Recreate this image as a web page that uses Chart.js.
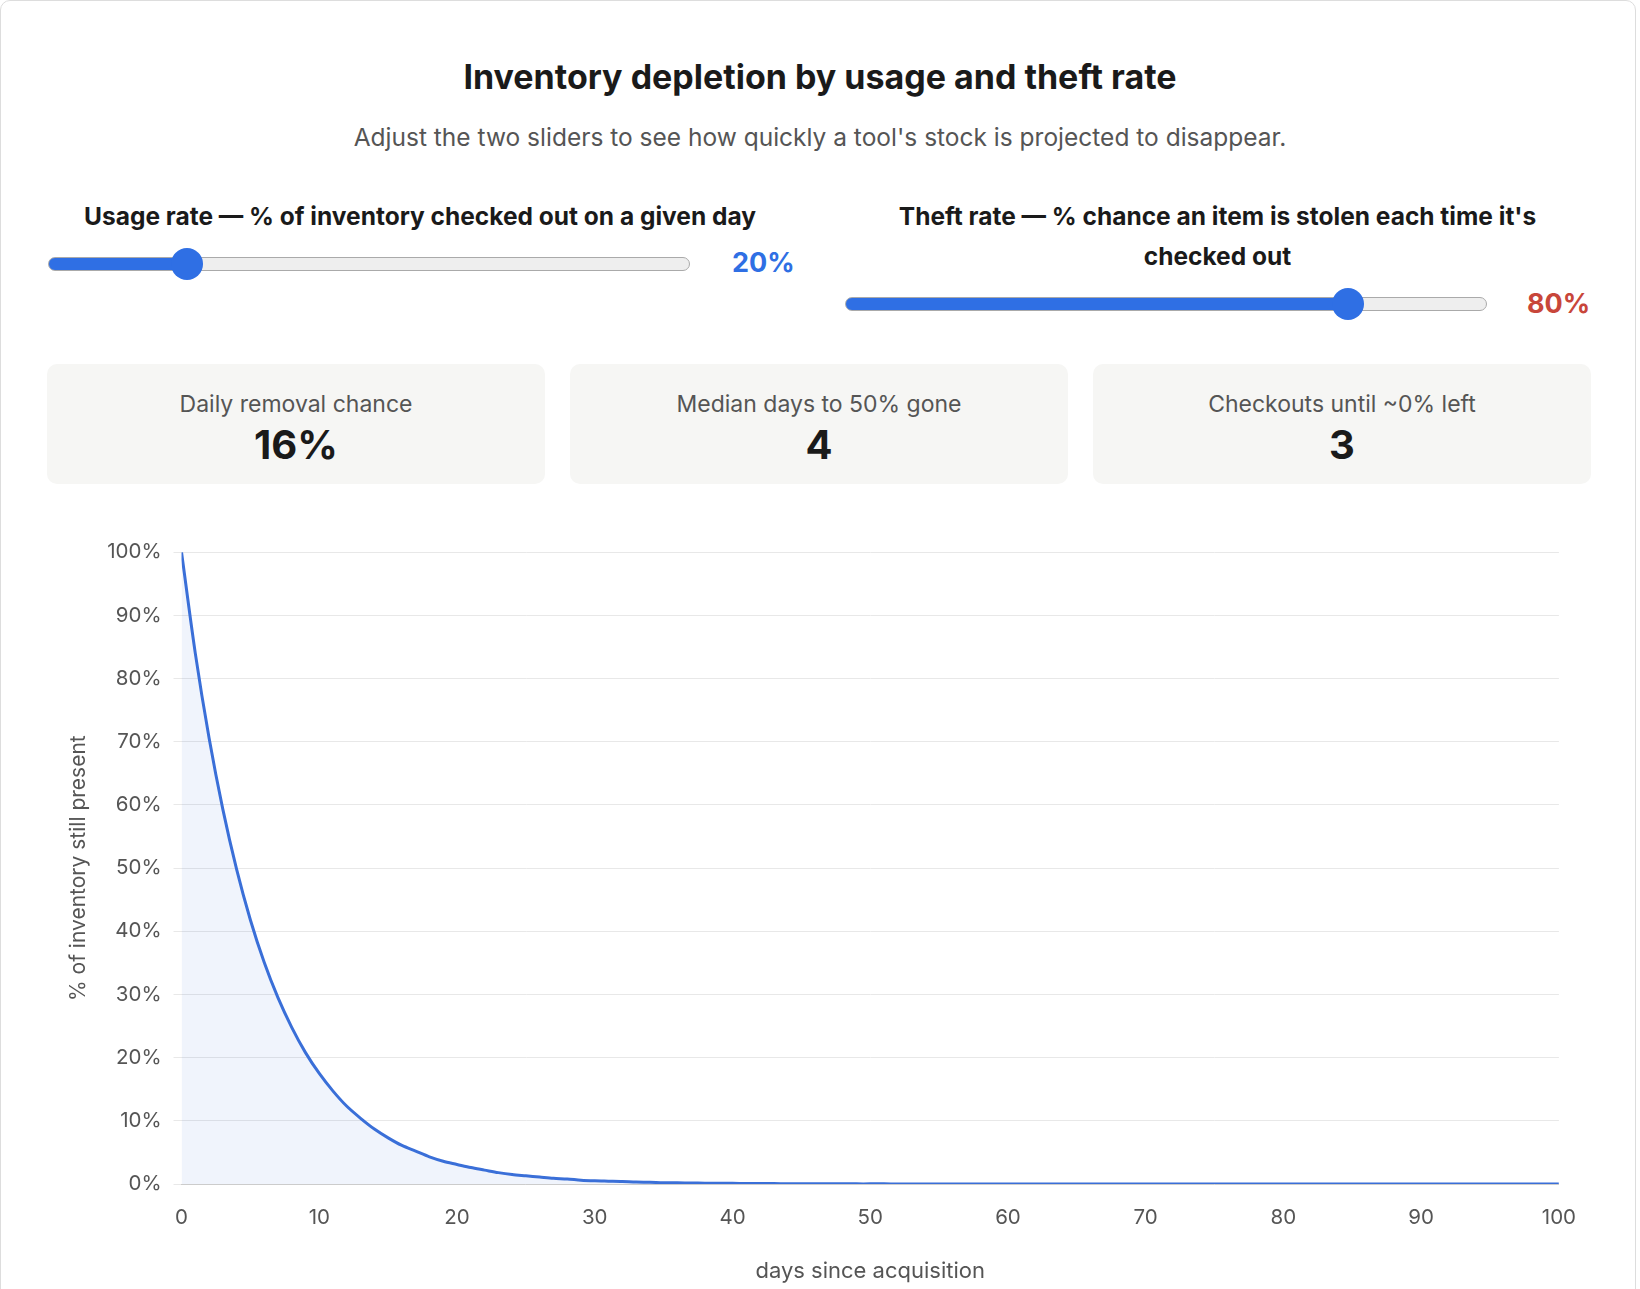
<!DOCTYPE html>
<html><head><meta charset="utf-8">
<script src="https://cdn.jsdelivr.net/npm/chart.js@4"></script>
<style>
body{margin:0;background:#fff;font-family:"Helvetica Neue",Inter,"Liberation Sans",Arial,sans-serif;color:#1a1a1a}
.card{position:absolute;left:0;top:0;width:1636px;height:1300px;border:1px solid #ddd;border-radius:10px;box-sizing:border-box}
h1{position:absolute;top:56px;left:0;width:1640px;text-align:center;font-size:34px;font-weight:700;margin:0}
.sub{position:absolute;top:122px;left:0;width:1640px;text-align:center;font-size:24.5px;color:#555}
.lab{position:absolute;font-size:24.5px;font-weight:700;text-align:center;line-height:40px}
input[type=range]{position:absolute;margin:0;height:30px;-webkit-appearance:none;appearance:none;background:transparent}
input[type=range]::-webkit-slider-runnable-track{height:14px;border-radius:7px;border:1px solid #aaa;box-sizing:border-box;background:linear-gradient(to right,#2f6fe4 var(--p),#eee var(--p))}
input[type=range]::-webkit-slider-thumb{-webkit-appearance:none;width:32px;height:32px;border-radius:50%;background:#2f6fe4;margin-top:-10px}
.val{position:absolute;font-size:27px;font-weight:700}
.box{position:absolute;top:364px;height:120px;width:498px;background:#f6f6f4;border-radius:10px;text-align:center}
.box .t{margin-top:26px;font-size:23px;color:#555}
.box .n{font-size:40px;font-weight:700;margin-top:2px}
#wrap{position:absolute;left:50px;top:528px;width:1540px;height:761px}
</style></head><body>
<div class="card"></div>
<h1>Inventory depletion by usage and theft rate</h1>
<div class="sub">Adjust the two sliders to see how quickly a tool's stock is projected to disappear.</div>
<div class="lab" style="left:40px;top:196px;width:760px">Usage rate — % of inventory checked out on a given day</div>
<input type="range" min="0" max="100" value="20" style="left:48px;top:249px;width:642px;--p:20%">
<div class="val" style="left:732px;top:246px;color:#2f6fe4">20%</div>
<div class="lab" style="left:870px;top:196px;width:695px">Theft rate — % chance an item is stolen each time it's checked out</div>
<input type="range" min="0" max="100" value="80" style="left:845px;top:289px;width:642px;--p:80%">
<div class="val" style="left:1527px;top:287px;color:#c8463a">80%</div>
<div class="box" style="left:47px"><div class="t">Daily removal chance</div><div class="n">16%</div></div>
<div class="box" style="left:570px"><div class="t">Median days to 50% gone</div><div class="n">4</div></div>
<div class="box" style="left:1093px"><div class="t">Checkouts until ~0% left</div><div class="n">3</div></div>
<div id="wrap"><canvas id="c"></canvas></div>
<script>
const days = Array.from({length:101},(_,i)=>i);
const remaining = [100,84,70.6,59.3,49.8,41.8,35.1,29.5,24.8,20.8,17.5,14.7,12.3,10.4,8.7,7.3,6.1,5.2,4.3,3.6,3.1,2.6,2.2,1.8,1.5,1.3,1.1,0.9,0.8,0.6,0.5,0.45,0.4,0.3,0.27,0.2,0.2,0.15,0.13,0.1,0.1,
0.08,0.07,0.06,0.05,0.04,0.04,0.03,0.03,0.02,0.02,0.02,0.01,0.01,0.01,0.01,0.01,0,0,0,0,
0,0,0,0,0,0,0,0,0,0,0,0,0,0,0,0,0,0,0,0,0,0,0,0,0,0,0,0,0,0,0,0,0,0,0,0,0,0,0,0,0];
Chart.defaults.font.family='"Helvetica Neue",Inter,"Liberation Sans",Arial,sans-serif';
Chart.defaults.font.size=20.5;Chart.defaults.color='#555';
new Chart(document.getElementById('c'),{type:'line',
data:{labels:days,datasets:[{data:remaining,borderColor:'#3a6fd8',backgroundColor:'rgba(58,111,216,0.08)',fill:true,pointRadius:0,borderWidth:3,tension:0.3}]},
options:{responsive:true,maintainAspectRatio:false,animation:false,plugins:{legend:{display:false},tooltip:{enabled:false}},
layout:{padding:{top:12,right:18,left:12}},
scales:{x:{type:'linear',min:0,max:100,ticks:{stepSize:10,padding:14},grid:{display:false},border:{color:'#ccc'},title:{display:true,text:'days since acquisition',font:{size:22},padding:{top:14}}},
y:{min:0,max:100,ticks:{stepSize:10,padding:12,callback:v=>v+'%'},grid:{color:'#e8e8e8'},border:{display:false},title:{display:true,text:'% of inventory still present',font:{size:21}}}}}});
</script></body></html>
